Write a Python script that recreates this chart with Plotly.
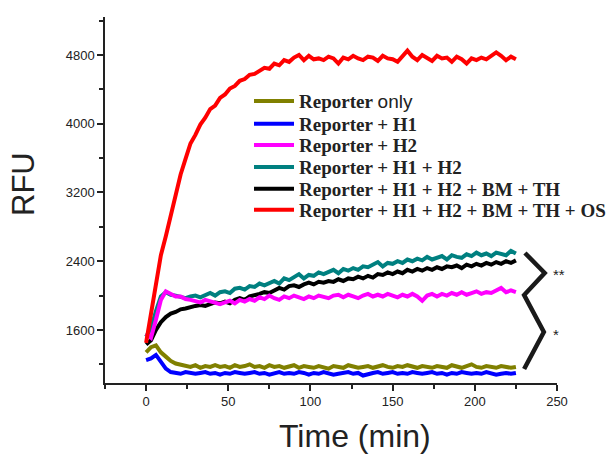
import plotly.graph_objects as go

# Time points (min)
time = list(range(0, 226, 3))

reporter_only = [
    1340, 1400, 1420, 1340, 1290, 1240, 1210, 1200, 1180, 1170,
    1190, 1160, 1180, 1170, 1190, 1170, 1180, 1160, 1190, 1170,
    1180, 1200, 1170, 1180, 1160, 1190, 1170, 1180, 1160, 1170,
    1190, 1160, 1180, 1170, 1160, 1180, 1170, 1150, 1180, 1170,
    1160, 1190, 1170, 1160, 1170, 1180, 1160, 1170, 1190, 1170,
    1160, 1180, 1170, 1190, 1170, 1160, 1180, 1170, 1160, 1180,
    1170, 1160, 1190, 1170, 1160, 1180, 1200, 1170, 1160, 1180,
    1170, 1160, 1180, 1170, 1160, 1170]

reporter_h1 = [
    1250, 1270, 1310, 1220, 1150, 1110, 1100, 1090, 1110, 1100,
    1090, 1100, 1110, 1090, 1100, 1080, 1100, 1090, 1110, 1100,
    1090, 1100, 1110, 1090, 1100, 1080, 1100, 1110, 1090, 1100,
    1090, 1110, 1100, 1080, 1100, 1090, 1110, 1100, 1080, 1090,
    1100, 1110, 1090, 1100, 1070, 1090, 1100, 1110, 1090, 1100,
    1110, 1090, 1100, 1090, 1110, 1100, 1090, 1100, 1110, 1090,
    1100, 1080, 1100, 1090, 1110, 1100, 1090, 1100, 1090, 1110,
    1100, 1080, 1090, 1100, 1090, 1100]

reporter_h2 = [
    1560, 1510, 1720, 1950, 2050, 2020, 1990, 1990, 1960, 1950,
    1940, 1920, 1950, 1930, 1910, 1900, 1920, 1940, 1910, 1950,
    1930, 1960, 1940, 1980, 1960, 2000, 1970, 1950, 1990, 1970,
    2000, 1980, 1960, 1990, 1970, 2000, 1990, 1970, 2000, 2010,
    1980, 2010, 1990, 1970, 2000, 2020, 1990, 2010, 1990, 2020,
    2000, 1980, 2010, 1990, 2020, 1990, 1940, 2000, 2020, 1990,
    2020, 2000, 2030, 2010, 2040, 2010, 2030, 2050, 2020, 2040,
    2030, 2060, 2090, 2040, 2060, 2040]

reporter_h1_h2 = [
    1520, 1620, 1820, 1990, 2040, 2010, 2000, 1990, 1970, 1990,
    2000, 1980, 2010, 2030, 2000, 2040, 2050, 2030, 2080, 2090,
    2070, 2110, 2100, 2140, 2120, 2150, 2170, 2140, 2200, 2180,
    2210, 2250, 2200, 2240, 2230, 2270, 2250, 2280, 2300, 2260,
    2310, 2290, 2320, 2300, 2340, 2330, 2360, 2390, 2340, 2380,
    2370, 2400, 2380, 2420, 2400, 2430, 2410, 2450, 2420, 2440,
    2460, 2420, 2470, 2450, 2440, 2480, 2460, 2500, 2470, 2490,
    2460, 2500, 2480, 2470, 2520, 2490]

reporter_h1_h2_bm_th = [
    1430, 1480, 1600, 1690, 1750, 1790, 1810, 1840, 1850, 1870,
    1880, 1890, 1880, 1900, 1920, 1910, 1930, 1910, 1950, 1970,
    1950, 1990, 2000, 2020, 2040, 2030, 2060, 2090, 2070, 2110,
    2120, 2100, 2130, 2150, 2130, 2160, 2150, 2170, 2160, 2190,
    2170, 2200, 2190, 2220, 2200, 2230, 2210, 2250, 2240, 2270,
    2250, 2280, 2260, 2300, 2280, 2310, 2290, 2320, 2300, 2330,
    2310, 2340, 2330, 2350, 2320, 2360, 2340, 2370, 2350, 2380,
    2360, 2390, 2370, 2400, 2380, 2410]

reporter_h1_h2_bm_th_os = [
    1450, 1780, 2140, 2470, 2690, 2940, 3180, 3410, 3590, 3770,
    3870, 3990, 4070, 4170, 4210, 4300, 4340, 4410, 4440, 4500,
    4520, 4570, 4580, 4620, 4650, 4640, 4700, 4680, 4740, 4720,
    4770, 4800, 4740, 4790, 4750, 4760, 4740, 4780, 4760, 4700,
    4770, 4750, 4790, 4760, 4740, 4780, 4770, 4730, 4790, 4760,
    4750, 4720, 4790, 4850, 4780, 4740, 4800, 4760, 4730, 4790,
    4760, 4770, 4720, 4780, 4750, 4700, 4760, 4740, 4770, 4750,
    4790, 4830, 4790, 4740, 4780, 4750]

series_names = [
    '<b>Reporter</b> <span style="font-family:Liberation Sans;font-weight:normal">only</span>',
    "<b>Reporter + H1</b>",
    "<b>Reporter + H2</b>",
    "<b>Reporter + H1 + H2</b>",
    "<b>Reporter + H1 + H2 + BM + TH</b>",
    "<b>Reporter + H1 + H2 + BM + TH + OS</b>",
]
series_values = [reporter_only, reporter_h1, reporter_h2, reporter_h1_h2,
                 reporter_h1_h2_bm_th, reporter_h1_h2_bm_th_os]
series_colors = ["#808000", "#0000ff", "#ff00ff", "#008080", "#000000", "#ff0000"]

# significance bracket and labels
bracket_x = [230.5, 242.5, 230, 242, 230]
bracket_y = [2496, 2263, 2007, 1577, 1146]
star_labels = ["**", "*"]
star_x = [246.5, 246.5]
star_y = [2240, 1545]

# y positions (paper) of each legend row
legend_rows = [0.770, 0.708, 0.650, 0.590, 0.530, 0.473]

fig = go.Figure()

# draw order: lower curves first, red last
draw_order = [0, 1, 4, 3, 2, 5]
for i in draw_order:
    fig.add_trace(go.Scatter(
        x=time, y=series_values[i], mode="lines", name=series_names[i],
        line=dict(color=series_colors[i], width=4),
        legend="legend" if i == 0 else f"legend{i+1}",
    ))

fig.add_trace(go.Scatter(
    x=bracket_x, y=bracket_y, mode="lines", showlegend=False,
    line=dict(color="#1a1a1a", width=4.5), cliponaxis=False,
))

for lab, sx, sy in zip(star_labels, star_x, star_y):
    fig.add_annotation(x=sx, y=sy, text=lab, showarrow=False, xanchor="left",
                       yanchor="middle", font=dict(family="Liberation Sans", size=15, color="#222"))

legend_common = dict(
    x=0.3186, xanchor="left", yanchor="middle", bgcolor="rgba(0,0,0,0)",
    borderwidth=0, itemwidth=40,
    font=dict(family="Liberation Serif", size=19, color="#222"),
)
layout_legends = {}
for k, ry in enumerate(legend_rows):
    key = "legend" if k == 0 else f"legend{k+1}"
    layout_legends[key] = dict(legend_common, y=ry)

fig.update_layout(
    width=615, height=454,
    margin=dict(l=105, r=58, t=17, b=71, autoexpand=False),
    paper_bgcolor="white", plot_bgcolor="white",
    showlegend=True,
    xaxis=dict(range=[-25, 250], showgrid=False, zeroline=False,
               showline=True, linecolor="#222", linewidth=1.5,
               ticks="outside", ticklen=6, tickwidth=1.5, tickcolor="#222",
               tick0=0, dtick=50, automargin=False,
               minor=dict(ticks="outside", ticklen=4, tickwidth=1.5, tickcolor="#222", dtick=25),
               tickfont=dict(family="Liberation Sans", size=13, color="#222")),
    yaxis=dict(range=[983, 5242], showgrid=False, zeroline=False,
               showline=True, linecolor="#222", linewidth=1.5,
               ticks="outside", ticklen=6, tickwidth=1.5, tickcolor="#222",
               tick0=0, dtick=800, automargin=False,
               minor=dict(ticks="outside", ticklen=4, tickwidth=1.5, tickcolor="#222", dtick=400),
               tickfont=dict(family="Liberation Sans", size=13, color="#222")),
    **layout_legends,
)

fig.add_annotation(text="RFU", xref="paper", yref="paper", x=-0.179, y=0.544,
                   textangle=-90, showarrow=False, xanchor="center", yanchor="middle",
                   font=dict(family="Liberation Sans", size=31, color="#222"))
fig.add_annotation(text="Time (min)", xref="paper", yref="paper", x=0.553, y=-0.146,
                   showarrow=False, xanchor="center", yanchor="middle",
                   font=dict(family="Liberation Sans", size=32, color="#222"))

fig.write_html("out.html", config={"displayModeBar": False},
               post_script="document.body.style.margin='0px';")
